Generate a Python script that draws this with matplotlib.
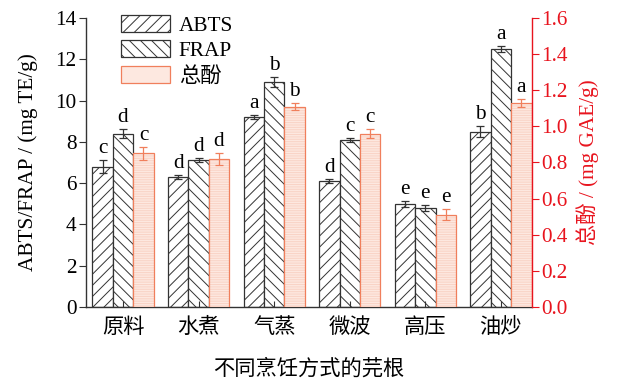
import numpy as np
import matplotlib.pyplot as plt
from matplotlib.patches import Patch

plt.rcParams['font.family'] = ['Liberation Serif', 'Noto Sans CJK SC']
plt.rcParams['hatch.linewidth'] = 0.7

# ----------------------------
# Data
# ----------------------------

methods = ["原料", "水煮", "气蒸", "微波", "高压", "油炒"]

abts = [6.8, 6.3, 9.2, 6.1, 5.0, 8.5]
abts_err = [0.3, 0.1, 0.1, 0.1, 0.15, 0.25]
abts_sig = ["c", "d", "a", "d", "e", "b"]

frap = [8.4, 7.1, 10.9, 8.1, 4.8, 12.5]
frap_err = [0.2, 0.1, 0.25, 0.1, 0.15, 0.15]
frap_sig = ["d", "d", "b", "c", "e", "a"]

phenol = [0.85, 0.82, 1.11, 0.96, 0.51, 1.13]
phenol_err = [0.035, 0.035, 0.02, 0.025, 0.03, 0.02]
phenol_sig = ["c", "d", "b", "c", "e", "a"]

# ----------------------------
# Styles
# ----------------------------

fs = 15.3
dark = "#333333"
red = "#e8141e"
pink_fill = "#fde8e0"
pink_hatch = "#f9d3c5"
pink_edge = "#f07f5c"

x = np.arange(len(methods))
w = 0.27

fig = plt.figure(figsize=(6.21, 3.79), dpi=100)
ax = fig.add_axes([0.1385, 0.19, 0.718, 0.7625])
ax2 = ax.twinx()

# ABTS / FRAP on the left axis
ax.bar(x - w, abts, w, facecolor="white", edgecolor=dark,
       hatch="///", linewidth=0.9)
ax.errorbar(x - w, abts, yerr=abts_err, fmt="none", ecolor=dark,
            elinewidth=0.9, capsize=3, capthick=0.9)

ax.bar(x, frap, w, facecolor="white", edgecolor=dark,
       hatch="\\\\\\", linewidth=0.9)
ax.errorbar(x, frap, yerr=frap_err, fmt="none", ecolor=dark,
            elinewidth=0.9, capsize=3, capthick=0.9)

for i in range(len(methods)):
    ax.text(x[i] - w, abts[i] + abts_err[i] + 0.1, abts_sig[i],
            ha="center", va="bottom", fontsize=fs)
    ax.text(x[i], frap[i] + frap_err[i] + 0.1, frap_sig[i],
            ha="center", va="bottom", fontsize=fs)

# Total phenol on the right axis
ax2.bar(x + w, phenol, w, facecolor=pink_fill, edgecolor=pink_hatch,
        hatch="-------", linewidth=0)
ax2.bar(x + w, phenol, w, fill=False, edgecolor=pink_edge, linewidth=0.9)
ax2.errorbar(x + w, phenol, yerr=phenol_err, fmt="none", ecolor=pink_edge,
             elinewidth=0.9, capsize=3, capthick=0.9)

for i in range(len(methods)):
    ax2.text(x[i] + w, phenol[i] + phenol_err[i] + 0.011, phenol_sig[i],
             ha="center", va="bottom", fontsize=fs)

# ----------------------------
# Axes
# ----------------------------

ax.set_xlim(-0.49, 5.41)
ax.set_ylim(0, 14)
ax2.set_ylim(0, 1.6)

ax.set_yticks(np.arange(0, 15, 2))
ax2.set_yticks(np.arange(0, 1.61, 0.2))
ax2.set_yticklabels([f"{v:.1f}" for v in np.arange(0, 1.61, 0.2)])

ax.set_xticks(x)
ax.set_xticklabels(methods, fontsize=fs)
ax.tick_params(axis="x", direction="in", length=4, color=dark, pad=8)
ax.tick_params(axis="y", direction="out", length=5, color=dark,
               labelsize=fs, pad=2)
ax2.tick_params(axis="y", direction="out", length=5, color=red,
                labelcolor=red, labelsize=fs, pad=2)

ax.set_ylabel("ABTS/FRAP / (mg TE/g)", fontsize=fs, labelpad=12)
ax2.set_ylabel("总酚 / (mg GAE/g)", fontsize=fs, color=red, labelpad=6)
ax.set_xlabel("不同烹饪方式的芫根", fontsize=fs, labelpad=15)

for a in (ax, ax2):
    a.spines["top"].set_visible(False)
ax.spines["right"].set_visible(False)
ax.spines["left"].set_color(dark)
ax.spines["bottom"].set_color(dark)
ax2.spines["left"].set_visible(False)
ax2.spines["bottom"].set_visible(False)
ax2.spines["right"].set_color(red)
for s in ("left", "bottom", "right"):
    ax.spines[s].set_linewidth(1.0)
    ax2.spines[s].set_linewidth(1.0)

# ----------------------------
# Legend
# ----------------------------

handles = [
    Patch(facecolor="white", edgecolor=dark, hatch="///", linewidth=0.9),
    Patch(facecolor="white", edgecolor=dark, hatch="\\\\\\", linewidth=0.9),
    Patch(facecolor=pink_fill, edgecolor=pink_edge, linewidth=0.9),
]
ax.legend(handles, ["ABTS", "FRAP", "总酚"], loc="upper left",
          bbox_to_anchor=(0.06, 1.04), frameon=False, fontsize=fs,
          handlelength=2.3, handleheight=0.85, handletextpad=0.4,
          labelspacing=0.22, borderaxespad=0)

fig.savefig("out.png", dpi=100)
